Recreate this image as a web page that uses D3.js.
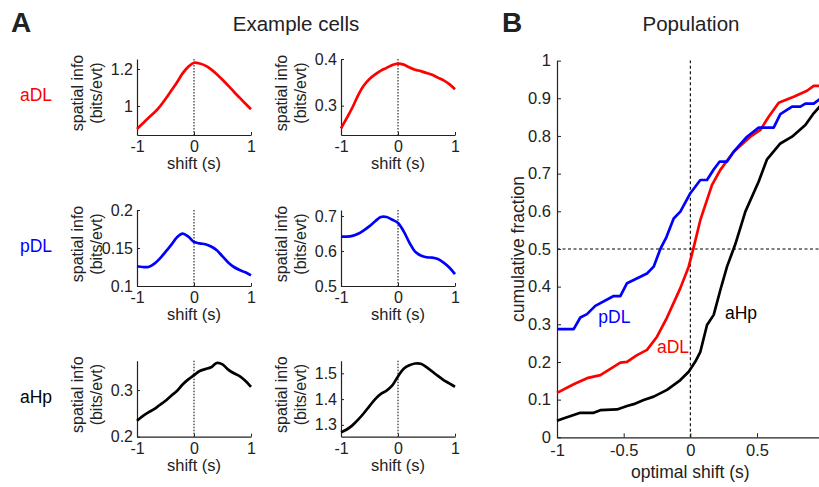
<!DOCTYPE html>
<html>
<head>
<meta charset="utf-8">
<script src="https://cdn.jsdelivr.net/npm/d3@7"></script>
<style>
  body { margin: 0; background: #fff; }
  svg { display: block; font-family: Arial, "Liberation Sans", sans-serif; }
</style>
</head>
<body>
<div id="chart"></div>
<script>
// ---- data: example cells (panel A) ----
const shifts = [-1, -0.9, -0.8, -0.7, -0.6, -0.5, -0.4, -0.3, -0.2, -0.1, 0,
  0.1, 0.2, 0.3, 0.4, 0.5, 0.6, 0.7, 0.8, 0.9, 1];

const aDL1 = [0.876, 0.905, 0.935, 0.963, 0.997, 1.038, 1.082, 1.127, 1.176, 1.212, 1.234,
  1.230, 1.218, 1.198, 1.172, 1.142, 1.110, 1.077, 1.045, 1.013, 0.982];
const aDL2 = [0.251, 0.273, 0.296, 0.322, 0.343, 0.357, 0.367, 0.375, 0.381, 0.387, 0.390,
  0.388, 0.382, 0.377, 0.374, 0.370, 0.366, 0.360, 0.354, 0.346, 0.335];
const pDL1 = [0.126, 0.125, 0.125, 0.129, 0.136, 0.145, 0.154, 0.164, 0.169, 0.165, 0.158,
  0.156, 0.155, 0.152, 0.147, 0.139, 0.131, 0.125, 0.121, 0.118, 0.114];
const pDL2 = [0.641, 0.641, 0.643, 0.649, 0.659, 0.671, 0.685, 0.697, 0.697, 0.689, 0.680,
  0.656, 0.624, 0.598, 0.587, 0.582, 0.581, 0.577, 0.567, 0.553, 0.534];
const aHp1 = [0.234, 0.244, 0.252, 0.259, 0.268, 0.277, 0.288, 0.298, 0.312, 0.323, 0.332,
  0.341, 0.345, 0.349, 0.358, 0.355, 0.344, 0.336, 0.330, 0.320, 0.307];
const aHp2 = [1.271, 1.282, 1.298, 1.320, 1.345, 1.373, 1.400, 1.420, 1.433, 1.453, 1.488,
  1.518, 1.531, 1.538, 1.537, 1.524, 1.507, 1.490, 1.474, 1.461, 1.448];

// y domains and ticks of the six small panels
const cellDomains = [[0.843, 1.254], [0.237, 0.4], [0.1, 0.2], [0.5, 0.717], [0.2, 0.363], [1.254, 1.549]];
const cellTicks = [[1, 1.2], [0.3, 0.4], [0.1, 0.15, 0.2], [0.5, 0.6, 0.7], [0.2, 0.3], [1.3, 1.4, 1.5]];
const shiftTicks = [-1, 0, 1];
const rowNames = ["aDL", "pDL", "aHp"];

// ---- data: population cumulative fractions (panel B) ----
const pDLx = [-1, -0.875, -0.825, -0.775, -0.713, -0.575, -0.525, -0.475, -0.325, -0.275, -0.225,
  -0.18, -0.125, -0.075, 0, 0.075, 0.125, 0.175, 0.22, 0.275, 0.325, 0.425, 0.5125, 0.625, 0.675,
  0.7625, 0.825, 0.8625, 0.925, 1.0];
const pDLy = [0.287, 0.287, 0.318, 0.327, 0.349, 0.375, 0.375, 0.409, 0.435, 0.453, 0.50,
  0.531, 0.581, 0.599, 0.648, 0.683, 0.683, 0.711, 0.732, 0.732, 0.758, 0.798, 0.822, 0.822, 0.858,
  0.878, 0.878, 0.886, 0.886, 0.905];
const aDLx = [-1, -0.875, -0.775, -0.675, -0.525, -0.475, -0.4, -0.325, -0.25, -0.175, -0.075,
  -0.0125, 0.025, 0.075, 0.1625, 0.225, 0.325, 0.45, 0.525, 0.5875, 0.6625, 0.775, 0.875, 0.925, 1.0];
const aDLy = [0.118, 0.141, 0.157, 0.165, 0.198, 0.20, 0.218, 0.232, 0.267, 0.318, 0.396,
  0.453, 0.504, 0.577, 0.670, 0.710, 0.758, 0.798, 0.816, 0.851, 0.888, 0.904, 0.92, 0.933, 0.933];
const aHpx = [-1, -0.953, -0.825, -0.725, -0.675, -0.55, -0.475, -0.425, -0.35, -0.275, -0.175,
  -0.075, -0.0125, 0.0375, 0.075, 0.125, 0.175, 0.225, 0.275, 0.3375, 0.4125, 0.5125, 0.575, 0.675,
  0.7625, 0.8625, 0.925, 1.0];
const aHpy = [0.044, 0.050, 0.065, 0.065, 0.072, 0.074, 0.083, 0.088, 0.099, 0.108, 0.126,
  0.152, 0.174, 0.201, 0.227, 0.298, 0.325, 0.391, 0.453, 0.513, 0.599, 0.679, 0.738, 0.780,
  0.798, 0.829, 0.86, 0.89];
const fracTicks = [0, 0.1, 0.2, 0.3, 0.4, 0.5, 0.6, 0.7, 0.8, 0.9, 1];
const optTicks = [-1, -0.5, 0, 0.5, 1];

const colors = { aDL: "#ff0000", pDL: "#0000ff", aHp: "#000000" };
const ink = "#222";

const svg = d3.select("#chart").append("svg")
  .attr("width", 819)
  .attr("height", 487);

// style an axis group the MATLAB way: inward ticks, no outer ticks
function styleAxis(g, size) {
  g.attr("font-family", "Arial, 'Liberation Sans', sans-serif")
    .attr("font-size", size);
  g.select(".domain").attr("stroke", ink).attr("stroke-width", 1.2);
  g.selectAll(".tick line").attr("stroke", ink).attr("stroke-width", 1);
  g.selectAll(".tick text").attr("fill", ink);
}

// ---------- panel A ----------
svg.append("text").attr("x", 11).attr("y", 32)
  .attr("font-size", 28).attr("font-weight", "bold").attr("fill", ink).text("A");
svg.append("text").attr("x", 296).attr("y", 31)
  .attr("text-anchor", "middle").attr("font-size", 20.5).attr("fill", ink).text("Example cells");

const cellData = [aDL1, aDL2, pDL1, pDL2, aHp1, aHp2];
const colLeft = [137, 341];
const rowTop = [59, 210, 360.7];
const cellW = 114, cellH = 76;

cellData.forEach((vals, i) => {
  const row = Math.floor(i / 2), col = i % 2;
  const name = rowNames[row];
  const g = svg.append("g")
    .attr("transform", `translate(${colLeft[col]}, ${rowTop[row]})`);

  const x = d3.scaleLinear().domain([-1, 1]).range([0, cellW]);
  const y = d3.scaleLinear().domain(cellDomains[i]).range([cellH, 0]);

  // dotted line at zero shift
  g.append("line")
    .attr("x1", x(0)).attr("x2", x(0))
    .attr("y1", 0).attr("y2", cellH)
    .attr("stroke", "#000").attr("stroke-width", 1)
    .attr("stroke-dasharray", "1.5,1.5");

  g.append("g")
    .attr("transform", `translate(0, ${cellH})`)
    .call(d3.axisBottom(x).tickValues(shiftTicks).tickFormat(d => String(d))
      .tickSizeInner(-3).tickSizeOuter(0).tickPadding(6))
    .call(a => styleAxis(a, 16));

  g.append("g")
    .call(d3.axisLeft(y).tickValues(cellTicks[i]).tickFormat(d => String(d))
      .tickSizeInner(-3).tickSizeOuter(0).tickPadding(4))
    .call(a => styleAxis(a, 16));

  const line = d3.line()
    .x((d, k) => x(shifts[k]))
    .y(d => y(d))
    .curve(d3.curveCatmullRom);

  g.append("path")
    .datum(vals)
    .attr("d", line)
    .attr("fill", "none")
    .attr("stroke", colors[name])
    .attr("stroke-width", 2.7)
    .attr("stroke-linejoin", "round");

  // axis labels
  g.append("text")
    .attr("x", cellW / 2).attr("y", cellH + 34)
    .attr("text-anchor", "middle").attr("font-size", 16.5).attr("fill", ink)
    .text("shift (s)");
  const ly = cellH / 2 - 4;
  g.append("text")
    .attr("transform", `translate(-60, ${ly}) rotate(-90)`)
    .attr("dy", "0.35em")
    .attr("text-anchor", "middle").attr("font-size", 16).attr("fill", ink)
    .text("spatial info");
  g.append("text")
    .attr("transform", `translate(-41, ${ly}) rotate(-90)`)
    .attr("dy", "0.35em")
    .attr("text-anchor", "middle").attr("font-size", 16).attr("fill", ink)
    .text("(bits/evt)");

  // row label
  if (col === 0) {
    svg.append("text")
      .attr("x", 36).attr("y", rowTop[row] + cellH / 2 - 2)
      .attr("dy", "0.35em")
      .attr("text-anchor", "middle").attr("font-size", 17.5)
      .attr("fill", colors[name])
      .text(name);
  }
});

// ---------- panel B ----------
svg.append("text").attr("x", 502).attr("y", 32)
  .attr("font-size", 28).attr("font-weight", "bold").attr("fill", ink).text("B");
svg.append("text").attr("x", 691).attr("y", 31)
  .attr("text-anchor", "middle").attr("font-size", 20.5).attr("fill", ink).text("Population");

const pop = { left: 557, top: 60.6, width: 266.7, height: 376.7 };
const gB = svg.append("g").attr("transform", `translate(${pop.left}, ${pop.top})`);

const xB = d3.scaleLinear().domain([-1, 1]).range([0, pop.width]);
const yB = d3.scaleLinear().domain([0, 1]).range([pop.height, 0]);

// reference lines
gB.append("line")
  .attr("x1", xB(0)).attr("x2", xB(0))
  .attr("y1", yB(0)).attr("y2", yB(1))
  .attr("stroke", "#000").attr("stroke-width", 1.1)
  .attr("stroke-dasharray", "3,2.5");
gB.append("line")
  .attr("x1", xB(-1)).attr("x2", xB(1))
  .attr("y1", yB(0.5)).attr("y2", yB(0.5))
  .attr("stroke", "#000").attr("stroke-width", 1.1)
  .attr("stroke-dasharray", "3,2.5");

gB.append("g")
  .attr("transform", `translate(0, ${pop.height})`)
  .call(d3.axisBottom(xB).tickValues(optTicks).tickFormat(d => String(d))
    .tickSizeInner(-4).tickSizeOuter(0).tickPadding(7))
  .call(a => styleAxis(a, 16.5));

gB.append("g")
  .call(d3.axisLeft(yB).tickValues(fracTicks).tickFormat(d => String(d))
    .tickSizeInner(-4).tickSizeOuter(0).tickPadding(6))
  .call(a => styleAxis(a, 16.5));

const popSeries = [
  { name: "aHp", xs: aHpx, ys: aHpy },
  { name: "aDL", xs: aDLx, ys: aDLy },
  { name: "pDL", xs: pDLx, ys: pDLy },
];

const cdfLine = d3.line()
  .x(d => xB(d[0]))
  .y(d => yB(d[1]));

popSeries.forEach(s => {
  gB.append("path")
    .datum(d3.zip(s.xs, s.ys))
    .attr("d", cdfLine)
    .attr("fill", "none")
    .attr("stroke", colors[s.name])
    .attr("stroke-width", 2.7)
    .attr("stroke-linejoin", "round");
});

// series labels
const popLabels = [
  { name: "pDL", x: -0.57, y: 0.32 },
  { name: "aDL", x: -0.13, y: 0.24 },
  { name: "aHp", x: 0.38, y: 0.33 },
];
popLabels.forEach(l => {
  gB.append("text")
    .attr("x", xB(l.x)).attr("y", yB(l.y))
    .attr("dy", "0.35em")
    .attr("text-anchor", "middle").attr("font-size", 17.5)
    .attr("fill", colors[l.name])
    .text(l.name);
});

// axis labels
gB.append("text")
  .attr("x", xB(0)).attr("y", pop.height + 41)
  .attr("text-anchor", "middle").attr("font-size", 17.5).attr("fill", ink)
  .text("optimal shift (s)");
gB.append("text")
  .attr("transform", `translate(-39, ${pop.height / 2}) rotate(-90)`)
  .attr("dy", "0.35em")
  .attr("text-anchor", "middle").attr("font-size", 17.5).attr("fill", ink)
  .text("cumulative fraction");
</script>
</body>
</html>
